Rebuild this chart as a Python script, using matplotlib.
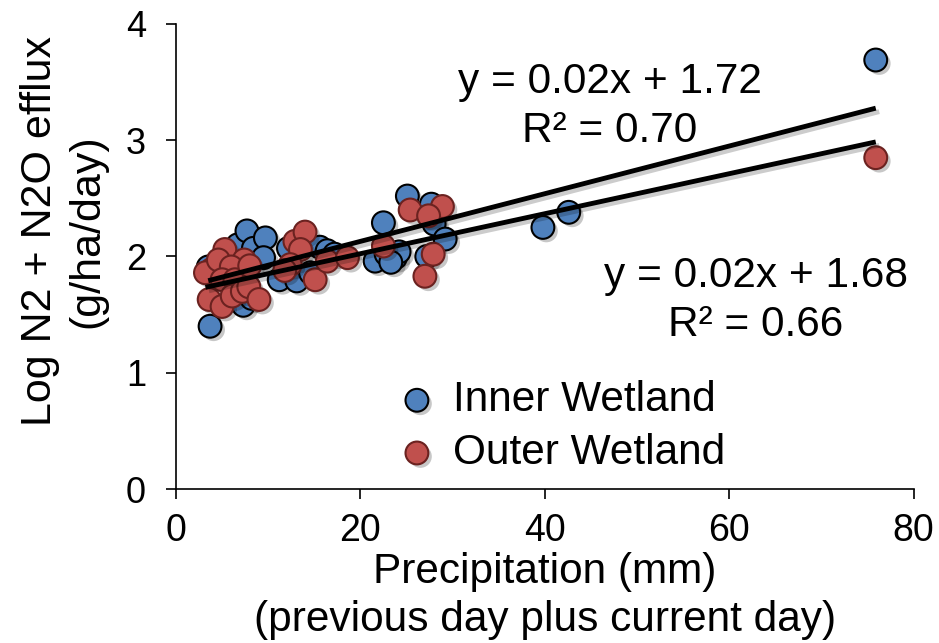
import numpy as np
import matplotlib
matplotlib.use("Agg")
import matplotlib.pyplot as plt
import matplotlib.patheffects as pe

plt.rcParams["font.family"] = ["Liberation Sans", "DejaVu Sans"]

# precipitation (mm) vs log denitrification efflux, two wetland zones
inner_x = [3.7, 3.5, 4.5, 6.7, 7.7, 8.4, 9.7, 9.5, 7.3, 8.2, 6.0, 11.2, 12.2, 13.1,
           14.6, 15.6, 16.4, 17.2, 21.6, 22.5, 22.8, 23.8, 24.2, 23.3, 25.1, 27.7,
           28.0, 29.2, 27.2, 39.8, 42.6, 75.9]
inner_y = [1.40, 1.91, 1.85, 2.10, 2.22, 2.07, 2.16, 1.99, 1.58, 1.64, 1.75, 1.80, 2.07, 1.79,
           1.86, 2.08, 2.05, 2.02, 1.96, 2.29, 2.02, 1.99, 2.04, 1.95, 2.52, 2.45,
           2.28, 2.15, 2.00, 2.25, 2.38, 3.69]

outer_x = [3.9, 3.2, 5.3, 4.6, 7.4, 6.0, 5.0, 6.4, 3.6, 5.0, 6.1, 7.2, 7.9, 9.0, 8.0,
           12.9, 14.0, 13.5, 12.4, 11.8, 15.1, 16.4, 18.6, 22.5, 25.4, 28.9, 27.4,
           27.9, 27.0, 75.9]
outer_y = [1.89, 1.86, 2.06, 1.97, 1.97, 1.91, 1.80, 1.80, 1.63, 1.57, 1.66, 1.70, 1.74, 1.63, 1.92,
           2.13, 2.21, 2.06, 1.93, 1.88, 1.80, 1.96, 1.99, 2.09, 2.40, 2.43, 2.35,
           2.02, 1.83, 2.85]

# linear trend lines (slope, intercept)
inner_fit = (0.0205, 1.72)
outer_fit = (0.0172, 1.68)

blue = "#4f81bd"
red = "#c0504d"

fig = plt.figure(figsize=(9.39, 6.43), dpi=100)
ax = fig.add_axes([0.1874, 0.2395, 0.7855, 0.7232])

shadow = [pe.SimplePatchShadow(offset=(2.5, -2.5), shadow_rgbFace="k", alpha=0.22), pe.Normal()]
line_shadow = [pe.SimpleLineShadow(offset=(2.5, -2.5), shadow_color="k", alpha=0.2), pe.Normal()]

for xs, fit in [(inner_x, inner_fit), (outer_x, outer_fit)]:
    xx = np.array([min(xs), max(xs)])
    ax.plot(xx, fit[0] * xx + fit[1], color="black", lw=3.5,
            solid_capstyle="butt", path_effects=line_shadow, zorder=3)

s1 = ax.scatter(inner_x, inner_y, s=270, color=blue, edgecolor="black", linewidth=1.5,
                zorder=2, label="Inner Wetland")
s2 = ax.scatter(outer_x, outer_y, s=270, color=red, edgecolor="#6b2220", linewidth=1.5,
                zorder=2.5, label="Outer Wetland")
s1.set_path_effects(shadow)
s2.set_path_effects(shadow)

ax.set_xlim(0, 80)
ax.set_ylim(0, 4)
ax.set_xticks([0, 20, 40, 60, 80])
ax.set_yticks([0, 1, 2, 3, 4])
for side in ["top", "right"]:
    ax.spines[side].set_visible(False)
for side in ["left", "bottom"]:
    ax.spines[side].set_linewidth(1.2)
ax.tick_params(axis="both", direction="out", length=7.5, width=1.2, colors="black")
ax.tick_params(axis="x", labelsize=27, pad=10)
ax.tick_params(axis="y", labelsize=26, pad=14)

ax.set_xlabel("Precipitation (mm)\n(previous day plus current day)", fontsize=30.5,
              labelpad=2, linespacing=1.25)
ax.text(-0.152, 0.555, "Log N2 + N2O efflux\n(g/ha/day)", transform=ax.transAxes,
        rotation=90, ha="center", va="center", fontsize=31, linespacing=1.25)

ax.text(0.588, 0.822, "y = 0.02x + 1.72\nR\u00b2 = 0.70", transform=ax.transAxes,
        ha="center", va="center", fontsize=30.5, linespacing=1.28)
ax.text(0.786, 0.405, "y = 0.02x + 1.68\nR\u00b2 = 0.66", transform=ax.transAxes,
        ha="center", va="center", fontsize=30.5, linespacing=1.28)

ax.legend(loc="upper left", bbox_to_anchor=(0.275, 0.27), frameon=False, fontsize=30.5,
          handletextpad=0.35, borderaxespad=0, labelspacing=0.3, scatterpoints=1,
          markerscale=1.0, handlelength=1.0)

fig.savefig("out.png", dpi=100)
